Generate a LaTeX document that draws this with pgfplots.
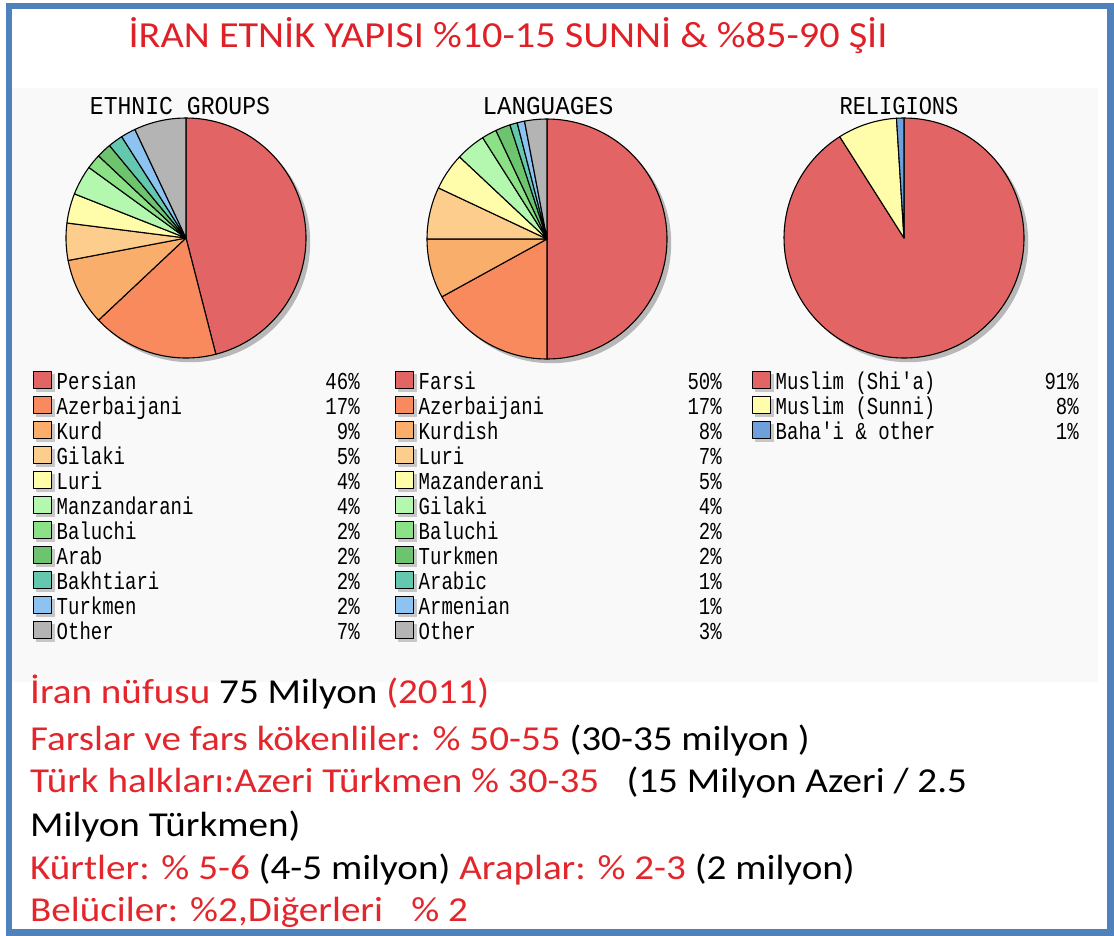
\documentclass[border=0pt]{standalone}
\usepackage{pgfplots}
\pgfplotsset{compat=1.18}
\usepackage{graphicx}
\usepackage{fontspec}
\setmainfont{Carlito}
\newfontfamily\mono{Liberation Mono}
\definecolor{frameblue}{HTML}{4F81BD}
\definecolor{titlered}{HTML}{E02027}
\definecolor{txtred}{HTML}{E3262C}
\definecolor{bggrey}{HTML}{F9F9F9}
\definecolor{c1}{HTML}{E36464}
\definecolor{c2}{HTML}{F98A5E}
\definecolor{c3}{HTML}{F9AE6B}
\definecolor{c4}{HTML}{FCCD8C}
\definecolor{c5}{HTML}{FFFCAA}
\definecolor{c6}{HTML}{B4F8AF}
\definecolor{c7}{HTML}{8CE187}
\definecolor{c8}{HTML}{6EC36E}
\definecolor{c9}{HTML}{64C8AF}
\definecolor{c10}{HTML}{8CC3F0}
\definecolor{c11}{HTML}{B4B4B4}
\definecolor{cblue}{HTML}{6EA0DC}

\newcommand\legtext[2]{\rule[-4bp]{0pt}{20bp}\smash{\makebox[246bp][l]{\scalebox{1}[1.28]{#1}}\makebox[57bp][r]{\scalebox{1}[1.28]{#2\%}}}}
\newcommand\resetpie{\gdef\cumval{0}}
\newcommand\slice[3]{%
  \pgfmathsetmacro\slA{90-3.6*(\cumval+#1)}%
  \pgfmathsetmacro\slB{90-3.6*\cumval}%
  \pgfmathsetmacro\newcum{\cumval+#1}\xdef\cumval{\newcum}%
  \pgfmathtruncatemacro\ns{3+1.5*#1}%
  \edef\doslice{\noexpand\addplot[pieslice, fill=#2, domain=\slA:\slB, samples=\ns]}%
  \doslice ({cos(x)},{sin(x)}) -- (0,0) -- cycle;
  \addlegendentry{\legtext{#3}{#1}}%
}

\pgfplotsset{
  pieaxis/.style={hide axis, scale only axis, width=240bp, height=240bp,
    xmin=-1, xmax=1, ymin=-1, ymax=1, clip=false, anchor=center,
    legend cell align=left,
    legend image code/.code={%
      \fill[black!22] (2.5bp,-8.5bp) rectangle (20.5bp,8.5bp);
      \draw[##1, draw=black, line width=1.3bp] (0bp,-6bp) rectangle (18bp,11bp);},
    legend style={draw=none, fill=none, inner sep=0pt, outer sep=0pt,
      anchor=north west, row sep=4.3bp,
      font=\mono\fontsize{19bp}{19bp}\selectfont,
      nodes={inner sep=0pt},
      /tikz/every odd column/.append style={column sep=2bp}},
  },
  pieslice/.style={draw=black, line width=1.1bp, line join=round},
}

\begin{document}
\begin{tikzpicture}[x=1bp, y=-1bp]
\useasboundingbox (0,0) rectangle (1114,936);
\fill[white] (0,0) rectangle (1114,936);
\fill[bggrey] (12,88) rectangle (1098,682);

% title
\node[anchor=base, inner sep=0pt, text=titlered, font=\fontsize{35bp}{35bp}\selectfont] at (508,47)
  {\scalebox{1.15}[1.05]{İRAN ETNİK YAPISI \%10-15 SUNNİ \& \%85-90 ŞİI}};

% pie titles
\begin{scope}[every node/.style={anchor=base, inner sep=0pt, font=\mono\fontsize{22bp}{22bp}\selectfont}]
\node at (180,114) {\scalebox{1.05}[1.17]{ETHNIC GROUPS}};
\node at (548,114) {\scalebox{1.1}[1.17]{LANGUAGES}};
\node at (899,114) {\scalebox{1}[1.17]{RELIGIONS}};
\end{scope}

% ETHNIC GROUPS
\begin{axis}[pieaxis, at={(186bp,-238bp)},
  legend style={at={(axis description cs:-0.1375,-0.054)}}]
\fill[black!28] (0.035,-0.035) circle[radius=1];
\resetpie
\slice{46}{c1}{Persian}
\slice{17}{c2}{Azerbaijani}
\slice{9}{c3}{Kurd}
\slice{5}{c4}{Gilaki}
\slice{4}{c5}{Luri}
\slice{4}{c6}{Manzandarani}
\slice{2}{c7}{Baluchi}
\slice{2}{c8}{Arab}
\slice{2}{c9}{Bakhtiari}
\slice{2}{c10}{Turkmen}
\slice{7}{c11}{Other}
\end{axis}

% LANGUAGES
\begin{axis}[pieaxis, at={(547bp,-239bp)},
  legend style={at={(axis description cs:-0.1333,-0.05)}}]
\fill[black!28] (0.035,-0.035) circle[radius=1];
\resetpie
\slice{50}{c1}{Farsi}
\slice{17}{c2}{Azerbaijani}
\slice{8}{c3}{Kurdish}
\slice{7}{c4}{Luri}
\slice{5}{c5}{Mazanderani}
\slice{4}{c6}{Gilaki}
\slice{2}{c7}{Baluchi}
\slice{2}{c8}{Turkmen}
\slice{1}{c9}{Arabic}
\slice{1}{c10}{Armenian}
\slice{3}{c11}{Other}
\end{axis}

% RELIGIONS
\begin{axis}[pieaxis, at={(904bp,-238bp)},
  legend style={at={(axis description cs:-0.1333,-0.054)}}]
\fill[black!28] (0.035,-0.035) circle[radius=1];
\resetpie
\slice{91}{c1}{Muslim (Shi'a)}
\slice{8}{c5}{Muslim (Sunni)}
\slice{1}{cblue}{Baha'i \& other}
\end{axis}

% bottom text
\begin{scope}[every node/.style={anchor=base west, inner sep=0pt, font=\fontsize{34bp}{34bp}\selectfont}]
\node at (30,703) {\scalebox{1.15}[1.03]{\textcolor{txtred}{İran nüfusu} 75 Milyon \textcolor{txtred}{(2011)}}};
\node at (30,750) {\scalebox{1.15}[1.03]{\textcolor{txtred}{Farslar ve fars kökenliler: \% 50-55} (30-35 milyon )}};
\node at (30,792) {\scalebox{1.15}[1.03]{\textcolor{txtred}{Türk halkları:Azeri Türkmen \% 30-35}\hspace{0.7em}(15 Milyon Azeri / 2.5}};
\node at (30,836) {\scalebox{1.15}[1.03]{Milyon Türkmen)}};
\node at (30,879) {\scalebox{1.15}[1.03]{\textcolor{txtred}{Kürtler: \% 5-6} (4-5 milyon) \textcolor{txtred}{Araplar: \% 2-3} (2 milyon)}};
\node at (30,921) {\scalebox{1.15}[1.03]{\textcolor{txtred}{Belüciler: \%2,Diğerleri\hspace{0.5em} \% 2}}};
\end{scope}

\draw[frameblue, line width=6.5bp] (9,6) rectangle (1110.5,932.5);
\end{tikzpicture}
\end{document}
